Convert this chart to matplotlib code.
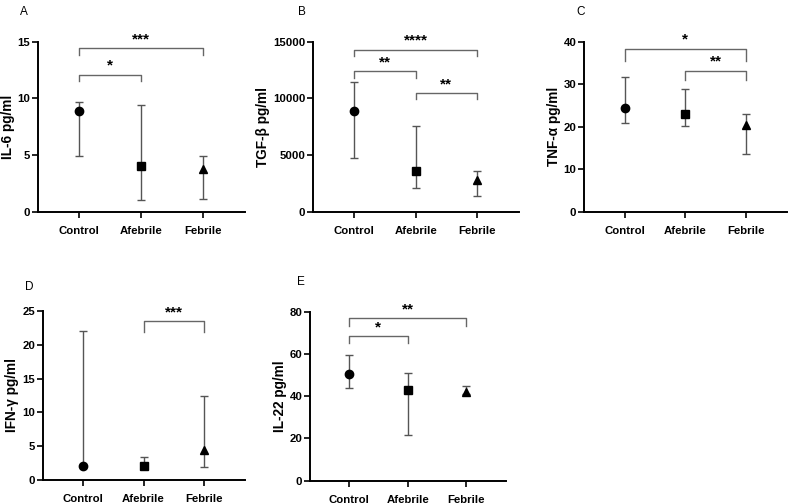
import matplotlib.pyplot as plt

plt.rcParams['font.family'] = ['Liberation Sans', 'DejaVu Sans']

groups = ['Control', 'Afebrile', 'Febrile']
markers = ['o', 's', '^']

# медианы и границы (нижняя, верхняя)
il6 = [8.9, 4.0, 3.8]
il6_lo = [4.95, 1.0, 1.15]
il6_hi = [9.7, 9.4, 4.9]

tgf = [8900, 3600, 2800]
tgf_lo = [4700, 2100, 1350]
tgf_hi = [11400, 7600, 3600]

tnf = [24.5, 23.1, 20.5]
tnf_lo = [20.8, 20.2, 13.5]
tnf_hi = [31.7, 28.8, 23.1]

ifn = [2.0, 2.0, 4.4]
ifn_lo = [2.0, 2.0, 1.9]
ifn_hi = [22.1, 3.4, 12.4]

il22 = [50.6, 42.7, 42.1]
il22_lo = [44.0, 21.5, 41.0]
il22_hi = [59.6, 50.9, 45.0]

# значимость: (группа 1, группа 2, уровень верха скобки, высота ножки, звёзды)
sig_a = [(0, 1, 12.1, 0.6, '*'), (0, 2, 14.4, 0.6, '***')]
sig_b = [(0, 1, 12400, 600, '**'), (1, 2, 10500, 600, '**'), (0, 2, 14300, 600, '****')]
sig_c = [(0, 2, 38.4, 2.9, '*'), (1, 2, 33.2, 2.1, '**')]
sig_d = [(1, 2, 23.5, 1.6, '***')]
sig_e = [(0, 1, 68.5, 3.5, '*'), (0, 2, 77.1, 3.9, '**')]

W, H = 788, 504
fig = plt.figure(figsize=(W / 100, H / 100), dpi=100)


def make_axes(x0, x1, ytop, ybot):
    return fig.add_axes([x0 / W, 1 - ybot / H, (x1 - x0) / W, (ybot - ytop) / H])


def panel(ax, med, lo, hi, sig, ymax, ticks, label, letter, lx, ly):
    for i in range(3):
        ax.errorbar(i, med[i], yerr=[[med[i] - lo[i]], [hi[i] - med[i]]],
                    fmt='none', ecolor='#555555', elinewidth=1, capsize=3,
                    capthick=1, zorder=2)
        ax.plot(i, med[i], marker=markers[i], color='black', markersize=6,
                zorder=3)
    for a, b, top, leg, stars in sig:
        ax.plot([a, a, b, b], [top - leg, top, top, top - leg],
                color='#666666', lw=1, clip_on=False)
        ax.text((a + b) / 2, top + ymax * 0.01, stars, ha='center',
                va='bottom', fontsize=11, fontweight='bold')
    ax.set_xlim(-0.67, 2.68)
    ax.set_ylim(0, ymax)
    ax.set_yticks(ticks)
    ax.set_xticks(range(3))
    ax.set_xticklabels(groups)
    for s in ['top', 'right']:
        ax.spines[s].set_visible(False)
    for s in ['left', 'bottom']:
        ax.spines[s].set_linewidth(1.4)
    ax.tick_params(width=1.2, length=4, labelsize=8.2)
    ax.tick_params(axis='y', pad=1.5)
    ax.tick_params(axis='x', pad=6)
    for t in ax.get_xticklabels() + ax.get_yticklabels():
        t.set_fontweight('bold')
    ax.set_ylabel(label, fontsize=9.8, fontweight='bold', labelpad=2)
    fig.text(lx / W, 1 - ly / H, letter, fontsize=8.5, va='center', ha='left')


ax = make_axes(38, 245, 41.7, 211.7)
panel(ax, il6, il6_lo, il6_hi, sig_a, 15, [0, 5, 10, 15], 'IL-6 pg/ml', 'A', 20, 12)

ax = make_axes(313, 519, 41.7, 211.7)
panel(ax, tgf, tgf_lo, tgf_hi, sig_b, 15000, [0, 5000, 10000, 15000], 'TGF-β pg/ml', 'B', 298, 12)

ax = make_axes(584, 787, 41.7, 211.7)
panel(ax, tnf, tnf_lo, tnf_hi, sig_c, 40, [0, 10, 20, 30, 40], 'TNF-α pg/ml', 'C', 576, 12)

ax = make_axes(42.7, 245, 311, 480)
panel(ax, ifn, ifn_lo, ifn_hi, sig_d, 25, [0, 5, 10, 15, 20, 25], 'IFN-γ pg/ml', 'D', 25, 287)

ax = make_axes(310, 506, 311.7, 480.7)
panel(ax, il22, il22_lo, il22_hi, sig_e, 80, [0, 20, 40, 60, 80], 'IL-22 pg/ml', 'E', 297, 282)

fig.savefig('out.png', dpi=100)
